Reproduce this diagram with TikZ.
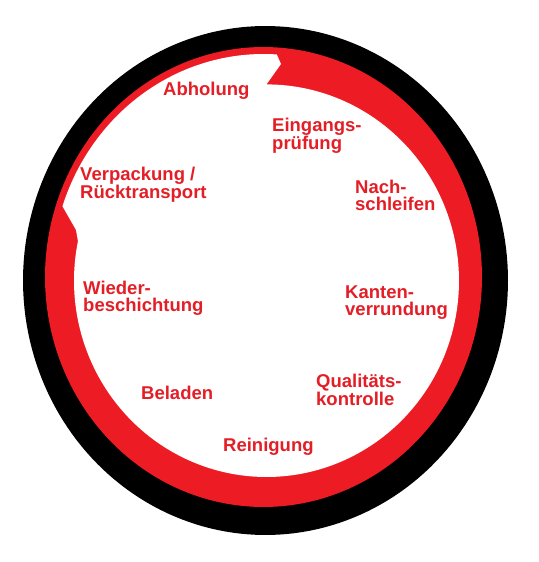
\documentclass[tikz,border=0pt]{standalone}
\usepackage{fontspec}
\setmainfont{Liberation Sans}
\definecolor{ringred}{RGB}{237,28,36}
\definecolor{txtred}{RGB}{228,30,38}
\newcommand\twol[2]{\vtop{\hbox{#1}\hbox{#2}}}
\begin{document}
\begin{tikzpicture}[x=1pt,y=-1pt,
  lbl/.style={text=txtred, font=\bfseries\fontsize{18.5}{17}\selectfont,
              inner sep=0pt, anchor=base west}]
\useasboundingbox (0,0) rectangle (538,562);
% shadow
\fill[black] plot[domain=0:360, samples=200] ({265.5+242.5*cos(\x)},{280.5+254.5*sin(\x)}) -- cycle;
% red ring
\fill[ringred] plot[domain=0:360, samples=200] ({263.5+218.5*cos(\x)},{277+230*sin(\x)}) -- cycle;
% white interior (spiral with arrow notches)
\fill[white]
  plot[domain=270:551.6, samples=200] ({266.5+192.5*cos(\x)},{280.7+196.3*sin(\x)})
  -- (76,230)
  -- plot[domain=198.5:273.6, samples=80] ({263.5+212*cos(\x)},{277+223*sin(\x)})
  -- (281,64) -- cycle;
% labels
\node[lbl] (abh) at (163,95) {Abholung};
\node[lbl] (ein) at (272,131) {\twol{Eingangs-}{prüfung}};
\node[lbl] (nach) at (355,193) {\twol{Nach-}{schleifen}};
\node[lbl] (kant) at (345,298) {\twol{Kanten-}{verrundung}};
\node[lbl] (qual) at (316,387) {\twol{Qualitäts-}{kontrolle}};
\node[lbl] (rein) at (223,451) {Reinigung};
\node[lbl] (bel) at (141,399) {Beladen};
\node[lbl] (wied) at (83,294) {\twol{Wieder-}{beschichtung}};
\node[lbl] (verp) at (80,180) {\twol{Verpackung /}{Rücktransport}};
\end{tikzpicture}
\end{document}
